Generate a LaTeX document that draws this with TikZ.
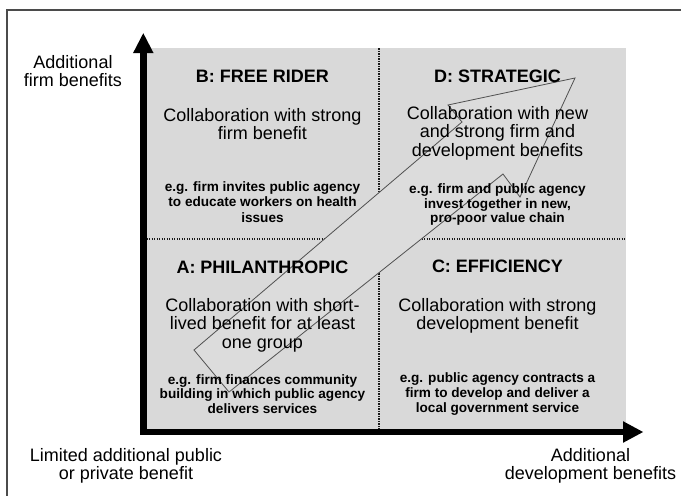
\documentclass[tikz,border=0pt]{standalone}
\usepackage{fontspec}
\setmainfont{Liberation Sans}
\usetikzlibrary{arrows.meta}
\definecolor{bggray}{RGB}{217,217,217}
\definecolor{arrfill}{RGB}{220,220,220}
\definecolor{arredge}{RGB}{80,80,80}
\definecolor{framec}{RGB}{75,75,75}
\definecolor{dotc}{RGB}{25,25,25}
\tikzset{
  ttl/.style={font=\bfseries\fontsize{18}{20}\selectfont, anchor=base, inner sep=0pt},
  body/.style={font=\fontsize{18}{20}\selectfont, anchor=base, inner sep=0pt},
  eg/.style={font=\bfseries\fontsize{13.6}{15}\selectfont, anchor=base, inner sep=0pt},
  axis/.style={line width=6.5pt, black, line join=miter,
    {Triangle[length=20.5pt,width=19pt]}-{Triangle[length=20.5pt,width=20pt]}},
  divider/.style={dotc, line width=1.7pt, dash pattern=on 1.3pt off 1.2pt},
  bigarrow/.style={draw=arredge, fill=arrfill, line width=0.8pt, line join=miter},
  framel/.style={framec, line width=2pt}
}
\begin{document}
\begin{tikzpicture}[x=1pt,y=-1pt]
\useasboundingbox (0,0) rectangle (681,496);
% outer frame (only top and left visible)
\coordinate (fbl) at (6.8,497);
\coordinate (ftl) at (6.8,9.5);
\coordinate (ftr) at (682,9.5);
\draw[framel] (fbl) -- (ftl) -- (ftr);
% gray field
\fill[bggray] (146.5,48.3) rectangle (626,428.5);
% dividers
\coordinate (vt) at (379.3,48.3);
\coordinate (vb) at (379.3,428.5);
\coordinate (hl) at (146.5,239.3);
\coordinate (hr) at (626,239.3);
\draw[divider] (vt) -- (vb);
\draw[divider] (hl) -- (hr);
% big diagonal arrow
\coordinate (tl) at (194,350);
\coordinate (li) at (462,122);
\coordinate (lb) at (448,105);
\coordinate (tip) at (575,78);
\coordinate (rb) at (520,197);
\coordinate (ri) at (503,174);
\coordinate (tr) at (229,392);
\draw[bigarrow] (tl) -- (li) -- (lb) -- (tip) -- (rb) -- (ri) -- (tr) -- cycle;
% axes
\coordinate (ytip) at (143.3,32.7);
\coordinate (orig) at (143.3,432);
\coordinate (xtip) at (643.5,432);
\draw[axis] (ytip) -- (orig) -- (xtip);
% quadrant B
\node[ttl]  (bt)  at (262.5,82.5) {B: FREE RIDER};
\node[body] (bb1) at (262.5,121.5) {Collaboration with strong};
\node[body] (bb2) at (262.5,139.8) {firm benefit};
\node[eg]   (be1) at (262.5,191.5) {e.g. firm invites public agency};
\node[eg]   (be2) at (262.5,206.8) {to educate workers on health};
\node[eg]   (be3) at (262.5,222.1) {issues};
% quadrant D
\node[ttl]  (dt)  at (497.5,82) {D: STRATEGIC};
\node[body] (db1) at (497.5,119.5) {Collaboration with new};
\node[body] (db2) at (497.5,137.8) {and strong firm and};
\node[body] (db3) at (497.5,156.1) {development benefits};
\node[eg]   (de1) at (497.5,193.2) {e.g. firm and public agency};
\node[eg]   (de2) at (497.5,208.0) {invest together in new,};
\node[eg]   (de3) at (497.5,222.5) {pro-poor value chain};
% quadrant A
\node[ttl]  (at)  at (262.5,273.2) {A: PHILANTHROPIC};
\node[body] (ab1) at (262.5,311.5) {Collaboration with short-};
\node[body] (ab2) at (262.5,329.8) {lived benefit for at least};
\node[body] (ab3) at (262.5,348.1) {one group};
\node[eg]   (ae1) at (262.5,384) {e.g. firm finances community};
\node[eg]   (ae2) at (262.5,398.8) {building in which public agency};
\node[eg]   (ae3) at (262.5,413.8) {delivers services};
% quadrant C
\node[ttl]  (ct)  at (497.5,272.8) {C: EFFICIENCY};
\node[body] (cb1) at (497.5,311.5) {Collaboration with strong};
\node[body] (cb2) at (497.5,329.3) {development benefit};
\node[eg]   (ce1) at (497.5,382.4) {e.g. public agency contracts a};
\node[eg]   (ce2) at (497.5,397.4) {firm to develop and deliver a};
\node[eg]   (ce3) at (497.5,412.4) {local government service};
% axis labels
\node[body] (ya1) at (73,68.8) {Additional};
\node[body] (ya2) at (73,86.3) {firm benefits};
\node[body] (xl1) at (126,461.2) {Limited additional public};
\node[body] (xl2) at (126,479.5) {or private benefit};
\node[body] (xr1) at (590.5,461.2) {Additional};
\node[body] (xr2) at (590.5,479.5) {development benefits};
\end{tikzpicture}
\end{document}
